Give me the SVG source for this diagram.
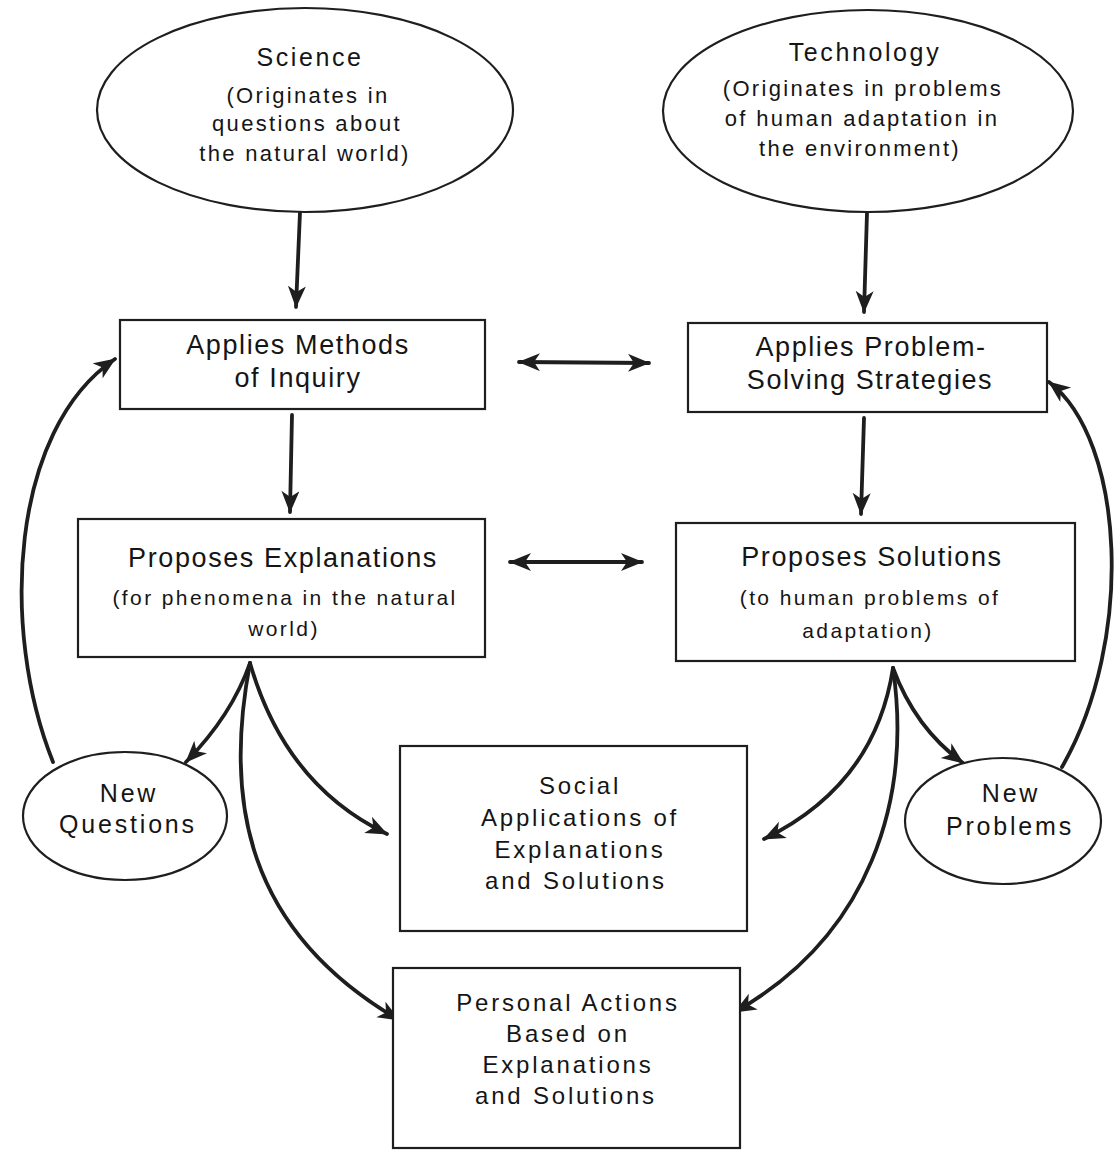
<svg xmlns="http://www.w3.org/2000/svg" width="1118" height="1151" viewBox="0 0 1118 1151">
<style>
.bg{fill:#ffffff}
.node{fill:#ffffff;stroke:#1e1e1e;stroke-width:2.2}
.t{font-family:"Liberation Sans",Arial,sans-serif;fill:#151515;text-anchor:middle}
.et{font-size:25px;letter-spacing:2.6px}
.es{font-size:22px;letter-spacing:2.3px}
.bt{font-size:27px;letter-spacing:1.6px}
.bs{font-size:21px;letter-spacing:2.4px}
.ot{font-size:25px;letter-spacing:2.8px}
.st{font-size:24px;letter-spacing:2.8px}
.c{fill:none;stroke:#1e1e1e;stroke-width:3.8;stroke-linecap:round}
.one{marker-end:url(#ah)}
.two{marker-start:url(#ah);marker-end:url(#ah)}
</style>
<defs>
<marker id="ah" markerUnits="userSpaceOnUse" markerWidth="24" markerHeight="20" refX="21" refY="9" orient="auto-start-reverse">
<path d="M0,0 L22,9 L0,18 L6,9 z" fill="#1e1e1e"/>
</marker>
</defs>
<rect class="bg" x="0" y="0" width="1118" height="1151"/>

<g id="connectors">
<path class="c one" d="M300,212 L296,307"/>
<path class="c one" d="M867,213 L864,312"/>
<path class="c two" d="M519,362 L649,363"/>
<path class="c one" d="M292,415 L290,512"/>
<path class="c one" d="M864,418 L861,514"/>
<path class="c two" d="M510,562 L642,562"/>
<path class="c one" d="M250,663 Q232,715 186,762"/>
<path class="c one" d="M250,663 Q285,785 387,834"/>
<path class="c one" d="M250,663 C224,800 245,930 399,1020"/>
<path class="c one" d="M53,762 C0,630 10,430 115,359"/>
<path class="c one" d="M893,668 Q875,785 764,839"/>
<path class="c one" d="M893,668 Q915,728 963,763"/>
<path class="c one" d="M893,668 C912,800 870,935 735,1012"/>
<path class="c one" d="M1062,767 C1135,640 1125,440 1049,382"/>
</g>

<g id="science">
<ellipse class="node" cx="305" cy="110" rx="208" ry="102"/>
<text class="t et" x="310" y="66">Science</text>
<text class="t es" x="308" y="103">(Originates in</text>
<text class="t es" x="307" y="131">questions about</text>
<text class="t es" x="305" y="161">the natural world)</text>
</g>

<g id="technology">
<ellipse class="node" cx="868" cy="111" rx="205" ry="101"/>
<text class="t et" x="865" y="61">Technology</text>
<text class="t es" x="863" y="96">(Originates in problems</text>
<text class="t es" x="862" y="126">of human adaptation in</text>
<text class="t es" x="860" y="156">the environment)</text>
</g>

<g id="methods">
<rect class="node" x="120" y="320" width="365" height="89"/>
<text class="t bt" x="298" y="354">Applies Methods</text>
<text class="t bt" x="298" y="387">of Inquiry</text>
</g>

<g id="strategies">
<rect class="node" x="688" y="323" width="359" height="89"/>
<text class="t bt" x="871" y="356">Applies Problem-</text>
<text class="t bt" x="870" y="389">Solving Strategies</text>
</g>

<g id="explanations">
<rect class="node" x="78" y="519" width="407" height="138"/>
<text class="t bt" x="283" y="567">Proposes Explanations</text>
<text class="t bs" x="285" y="605">(for phenomena in the natural</text>
<text class="t bs" x="284" y="636">world)</text>
</g>

<g id="solutions">
<rect class="node" x="676" y="523" width="399" height="138"/>
<text class="t bt" x="872" y="566">Proposes Solutions</text>
<text class="t bs" x="870" y="605">(to human problems of</text>
<text class="t bs" x="868" y="638">adaptation)</text>
</g>

<g id="new-questions">
<ellipse class="node" cx="125" cy="816" rx="102" ry="64"/>
<text class="t ot" x="129" y="802">New</text>
<text class="t ot" x="128" y="833">Questions</text>
</g>

<g id="new-problems">
<ellipse class="node" cx="1003" cy="821" rx="98" ry="63"/>
<text class="t ot" x="1011" y="802">New</text>
<text class="t ot" x="1010" y="835">Problems</text>
</g>

<g id="social">
<rect class="node" x="400" y="746" width="347" height="185"/>
<text class="t st" x="580" y="794">Social</text>
<text class="t st" x="580" y="826">Applications of</text>
<text class="t st" x="580" y="858">Explanations</text>
<text class="t st" x="576" y="889">and Solutions</text>
</g>

<g id="personal">
<rect class="node" x="393" y="968" width="347" height="180"/>
<text class="t st" x="568" y="1011">Personal Actions</text>
<text class="t st" x="568" y="1042">Based on</text>
<text class="t st" x="568" y="1073">Explanations</text>
<text class="t st" x="566" y="1104">and Solutions</text>
</g>
</svg>
